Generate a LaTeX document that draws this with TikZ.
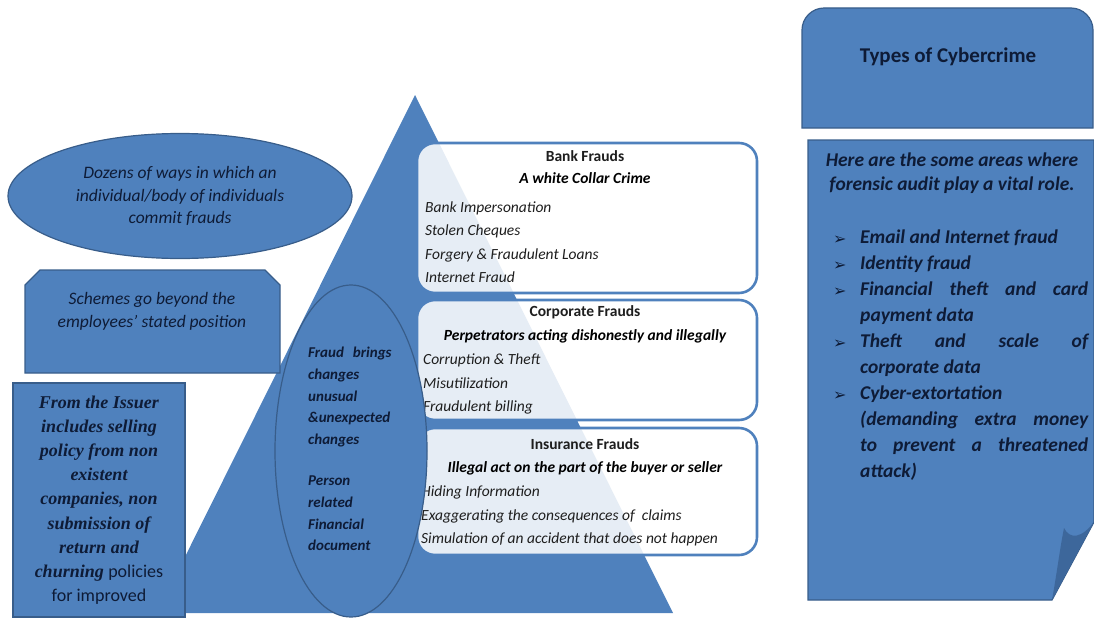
\documentclass[tikz,border=0pt]{standalone}
\usepackage{fontspec}
\setmainfont{Carlito}
\newfontfamily\issuerserif{Liberation Serif}
\newfontfamily\bulletfont{DejaVu Sans}
\usepackage{tikz}
\usetikzlibrary{shapes.geometric}
\definecolor{fillblue}{HTML}{4F81BD}
\definecolor{edgeblue}{HTML}{385D8A}
\definecolor{flapblue}{HTML}{3D679B}
\definecolor{navy}{HTML}{0E1B36}
\definecolor{boxink}{HTML}{1E1E1E}
\newcommand{\areabullet}{\makebox[27pt][l]{\bulletfont\fontsize{16}{16}\selectfont\raisebox{-1pt}{➢}}}
\newcommand{\areaindent}{\hspace*{27pt}}
\newcommand{\spreadline}[1]{\makebox[228pt][s]{#1}}
\tikzset{
  blueshape/.style={draw=edgeblue, line width=1.2pt, fill=fillblue},
  fraudbox/.style={rectangle, rounded corners=18pt, draw=fillblue, line width=2.6pt, fill=white, fill opacity=0.86, minimum width=340pt, inner sep=0pt},
  heading/.style={font=\bfseries\fontsize{15.5}{18}\selectfont, text=boxink},
  subheading/.style={font=\bfseries\itshape\fontsize{15.5}{18}\selectfont, text=black},
  itemlist/.style={anchor=west, align=left, inner sep=0pt, text=boxink, font=\itshape\fontsize{15.5}{23.5}\selectfont},
  navytext/.style={text=navy, align=center},
  ovaltext/.style={anchor=west, align=left, inner sep=0pt, text=navy, font=\bfseries\itshape\fontsize{15}{21.8}\selectfont},
  areatext/.style={text=navy, inner sep=0pt, font=\bfseries\itshape\fontsize{19.5}{26}\selectfont}
}
\begin{document}
\begin{tikzpicture}[x=1pt, y=-1pt]
  \useasboundingbox (0,0) rectangle (1094,618);
  % pyramid behind the fraud boxes
  \fill[fillblue] (415,95) -- (673,613) -- (157,613) -- cycle;

  % fraud boxes
  \node[fraudbox, minimum height=150pt] (bank) at (587,218) {};
  \node[fraudbox, minimum height=120pt] (corp) at (587,360) {};
  \node[fraudbox, minimum height=127pt] (insur) at (587,491.5) {};

  \node[heading] (bankhead) at (585,156) {Bank Frauds};
  \node[subheading] (banksub) at (585,178) {A white Collar Crime};
  \node[itemlist] (banklist) at (425,242) {Bank Impersonation\\Stolen Cheques\\Forgery \& Fraudulent Loans\\Internet Fraud};

  \node[heading] (corphead) at (585,312) {Corporate Frauds};
  \node[subheading] (corpsub) at (585,336) {Perpetrators acting dishonestly and illegally};
  \node[itemlist] (corplist) at (423,384) {Corruption \& Theft\\Misutilization\\Fraudulent billing};

  \node[heading] (insurhead) at (585,444) {Insurance Frauds};
  \node[subheading] (insursub) at (585,468) {Illegal act on the part of the buyer or seller};
  \node[itemlist] (insurlist) at (421,516) {Hiding Information\\Exaggerating the consequences of \ claims\\Simulation of an accident that does not happen};

  % tall oval over the boxes
  \node[ellipse, blueshape, minimum width=152pt, minimum height=332pt] (changes) at (351,451) {};
  \node[ovaltext] (changetext) at (308,449) {Fraud\hspace{9pt}brings\\changes\\unusual\\\&unexpected\\changes\\[19pt]Person\\related\\Financial\\document};

  % left column
  \node[ellipse, blueshape, minimum width=344pt, minimum height=125pt, navytext, font=\itshape\fontsize{17.5}{22.5}\selectfont] (ways) at (180,196) {Dozens of ways in which an\\individual/body of individuals\\commit frauds};

  \filldraw[blueshape] (25,373) -- (25,285) -- (40,270) -- (265,270) -- (280,285) -- (280,373) -- cycle;
  \node[navytext, font=\itshape\fontsize{17.5}{23}\selectfont] (schemes) at (152,311.5) {Schemes go beyond the\\employees' stated position};

  \node[rectangle, blueshape, minimum width=172pt, minimum height=234pt, navytext, font=\issuerserif\bfseries\itshape\fontsize{18}{24.2}\selectfont] (issuer) at (99,500) {From the Issuer\\includes selling\\policy from non\\existent\\companies, non\\submission of\\return and\\churning {\normalfont policies}\\{\normalfont for improved}};

  % right column
  \filldraw[blueshape] (802,128) -- (802,30) .. controls (802,18) and (812,8) .. (824,8) -- (1071,8) .. controls (1083,8) and (1093,18) .. (1093,30) -- (1093,128) -- cycle;
  \node[text=navy, font=\bfseries\fontsize{21}{24}\selectfont] (types) at (948,57) {Types of Cybercrime};

  \filldraw[blueshape] (808,140) -- (1094,140) -- (1094,522) -- (1052,600) -- (808,600) -- cycle;
  \fill[flapblue] (1052,600) .. controls (1057,572) and (1060,548) .. (1064,528) .. controls (1070,540) and (1082,538) .. (1094,522) -- cycle;
  \node[areatext, align=center, font=\bfseries\itshape\fontsize{19.5}{24}\selectfont] (areas) at (952,173.5) {Here are the some areas where\\forensic audit play a vital role.};
  \node[areatext, anchor=west, align=left] (arealist) at (833,355.5) {\areabullet Email and Internet fraud\\\areabullet Identity fraud\\\areabullet\spreadline{Financial theft and card}\\\areaindent payment data\\\areabullet\spreadline{Theft and scale of}\\\areaindent corporate data\\\areabullet Cyber-extortation\\\areaindent\spreadline{(demanding extra money}\\\areaindent\spreadline{to prevent a threatened}\\\areaindent attack)};
\end{tikzpicture}
\end{document}
